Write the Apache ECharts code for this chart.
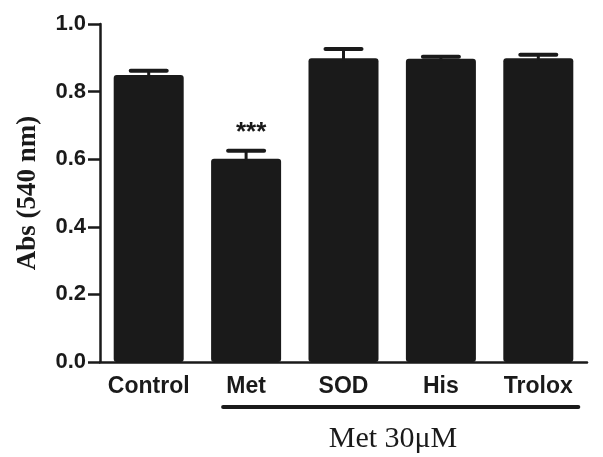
<!DOCTYPE html>
<html><head><meta charset="utf-8">
<script src="https://cdn.jsdelivr.net/npm/echarts@6/dist/echarts.min.js"></script>
<style>html,body{margin:0;padding:0;background:#fff}#c{width:603px;height:457px}</style>
</head><body><div id="c"></div>
<script>
const categories = ['Control', 'Met', 'SOD', 'His', 'Trolox'];
const values = [0.849, 0.601, 0.899, 0.897, 0.899];
const errors = [0.013, 0.024, 0.027, 0.006, 0.010];
const marks = ['', '***', '', '', ''];
const yTicks = [0, 0.2, 0.4, 0.6, 0.8, 1.0];

const ink = '#1a1a1a';
const chart = echarts.init(document.getElementById('c'), null, {renderer: 'canvas'});
const errData = categories.map((c, i) => [i, values[i], errors[i]]);

chart.setOption({
  animation: false,
  grid: {left: 100, right: 16, top: 24, bottom: 95, containLabel: false},
  xAxis: {
    type: 'category', data: categories,
    axisLine: {lineStyle: {color: ink, width: 2.5}},
    axisTick: {alignWithLabel: true, length: 10, lineStyle: {color: ink, width: 2.5}},
    axisLabel: {interval: 0, hideOverlap: false, color: ink, fontFamily: 'Liberation Sans', fontWeight: 'bold', fontSize: 23, margin: 13}
  },
  yAxis: {
    type: 'value', min: yTicks[0], max: yTicks[yTicks.length - 1], interval: 0.2,
    name: 'Abs (540 nm)', nameLocation: 'middle', nameGap: 58, nameRotate: 90,
    nameTextStyle: {color: ink, fontFamily: 'Liberation Serif', fontWeight: 'bold', fontSize: 27},
    axisLine: {show: true, lineStyle: {color: ink, width: 2.5}},
    axisTick: {show: true, length: 12, lineStyle: {color: ink, width: 2.5}},
    axisLabel: {color: ink, fontFamily: 'Liberation Sans', fontWeight: 'bold', fontSize: 22, margin: 14,
      formatter: v => v.toFixed(1)},
    splitLine: {show: false}
  },
  series: [
    {type: 'bar', data: values, barWidth: 70, itemStyle: {color: ink, borderRadius: 3}, z: 2},
    {type: 'custom', data: errData, z: 3,
      renderItem: function (params, api) {
        const i = api.value(0), v = api.value(1), e = api.value(2);
        const p0 = api.coord([i, v]);
        const p1 = api.coord([i, v + e]);
        const half = 18;
        const children = [
          {type: 'line', shape: {x1: p0[0], y1: p0[1] + 2, x2: p1[0], y2: p1[1]},
            style: {stroke: ink, lineWidth: 3}},
          {type: 'line', shape: {x1: p1[0] - half, y1: p1[1], x2: p1[0] + half, y2: p1[1]},
            style: {stroke: ink, lineWidth: 4, lineCap: 'round'}}
        ];
        const m = marks[params.dataIndex];
        if (m) {
          children.push({type: 'text', style: {text: m, x: p1[0] + 5, y: p1[1] - 18,
            textAlign: 'center', textVerticalAlign: 'middle', fill: ink,
            font: 'bold 26px "Liberation Sans"'}});
        }
        return {type: 'group', children: children};
      }
    }
  ]
});

// bracket line under the Met-treated groups
const pa = chart.convertToPixel({xAxisIndex: 0}, 'Met');
const pb = chart.convertToPixel({xAxisIndex: 0}, 'Trolox');
chart.setOption({
  graphic: [
    {type: 'line', shape: {x1: pa - 23, y1: 407, x2: pb + 40, y2: 407},
      style: {stroke: ink, lineWidth: 4, lineCap: 'round'}},
    {type: 'text', x: 393, y: 439,
      style: {text: 'Met 30\u03bcM', font: '30px "Liberation Serif"', fill: ink,
        textAlign: 'center', textVerticalAlign: 'middle'}}
  ]
});
</script></body></html>
